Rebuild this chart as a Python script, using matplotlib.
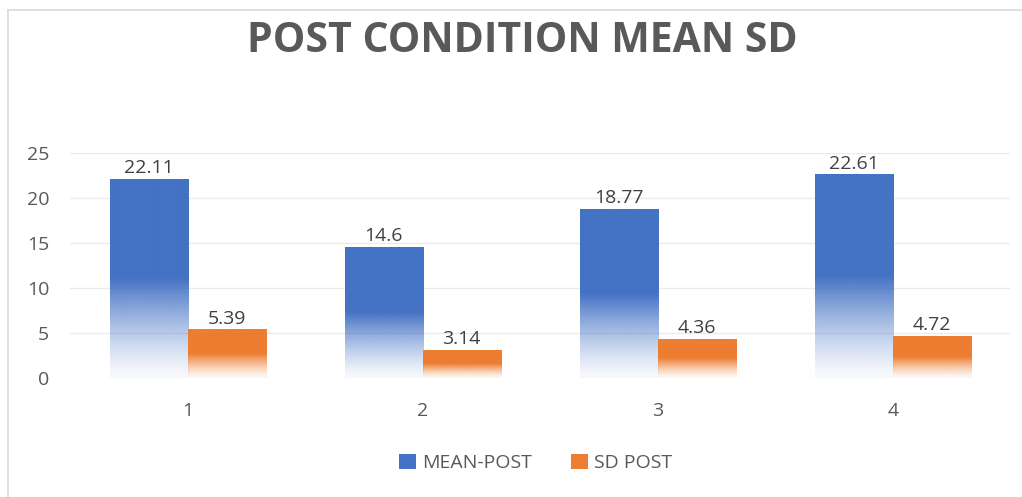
import numpy as np
import matplotlib
matplotlib.use("Agg")
import matplotlib.pyplot as plt
from matplotlib.colors import to_rgb
from matplotlib.patches import Rectangle
from matplotlib.lines import Line2D

categories = ["1", "2", "3", "4"]
mean_post = [22.11, 14.6, 18.77, 22.61]
sd_post = [5.39, 3.14, 4.36, 4.72]
series_names = ["MEAN-POST", "SD POST"]
colors = ["#4472C4", "#ED7D31"]
title = "POST CONDITION MEAN SD"

plt.rcParams['font.family'] = ['Open Sans', 'DejaVu Sans']
fig = plt.figure(figsize=(10.22, 4.97), dpi=100)
ax = fig.add_axes([0.0685, 0.2394, 0.9202, 0.4528])

x = np.arange(len(categories))
w = 0.332

def gradient_img(color):
    r, g, b = to_rgb(color)
    n = 200
    t = np.linspace(0, 1, n)  # 0 bottom -> 1 top
    alpha = np.clip(t / 0.5, 0, 1) ** 1.3
    alpha = 0.04 + 0.96 * alpha
    img = np.zeros((n, 1, 4))
    img[:, 0, 0] = r
    img[:, 0, 1] = g
    img[:, 0, 2] = b
    img[:, 0, 3] = alpha
    return img[::-1]

for vals, off, col in [(mean_post, -w / 2, colors[0]), (sd_post, w / 2, colors[1])]:
    bars = ax.bar(x + off, vals, width=w, facecolor='none', edgecolor='none', zorder=3)
    img = gradient_img(col)
    for rect, v in zip(bars, vals):
        x0 = rect.get_x()
        im = ax.imshow(img, extent=[x0, x0 + rect.get_width(), 0, rect.get_height()],
                       aspect='auto', zorder=3, interpolation='bilinear')
        im.set_clip_path(rect)
        ax.text(rect.get_x() + rect.get_width() / 2, v + 0.2, f"{v:g}",
                ha='center', va='bottom', fontsize=14, color='#404040', zorder=4)

ax.set_xlim(-0.5, len(categories) - 0.5)
ax.set_ylim(0, 25)
ax.set_yticks([0, 5, 10, 15, 20, 25])
ax.set_xticks(x)
ax.set_xticklabels(categories)
ax.yaxis.grid(True, color='#EBEBEB', linewidth=1)
ax.set_axisbelow(True)
for s in ax.spines.values():
    s.set_visible(False)
ax.tick_params(axis='both', length=0, labelsize=14, labelcolor='#595959')
ax.tick_params(axis='y', pad=15)
ax.tick_params(axis='x', pad=17)

fig.text(0.5108, 0.9175, title, ha='center', va='center', fontsize=29.5,
         fontweight='bold', color='#595959')

handles = [Rectangle((0, 0), 1, 1, facecolor=c, edgecolor='none') for c in colors]
fig.legend(handles, series_names, loc='center', bbox_to_anchor=(0.524, 0.068),
           ncol=2, frameon=False, fontsize=14, labelcolor='#595959',
           handlelength=0.9, handleheight=0.8, handletextpad=0.3, columnspacing=2.0)

# outer frame lines
fig.add_artist(Line2D([8 / 1022, 1.0], [1 - 10 / 497, 1 - 10 / 497], color='#D9D9D9', lw=1.2))
fig.add_artist(Line2D([8 / 1022, 8 / 1022], [0, 1 - 10 / 497], color='#D9D9D9', lw=1.2))

fig.savefig("out.png", dpi=100, facecolor='white')
